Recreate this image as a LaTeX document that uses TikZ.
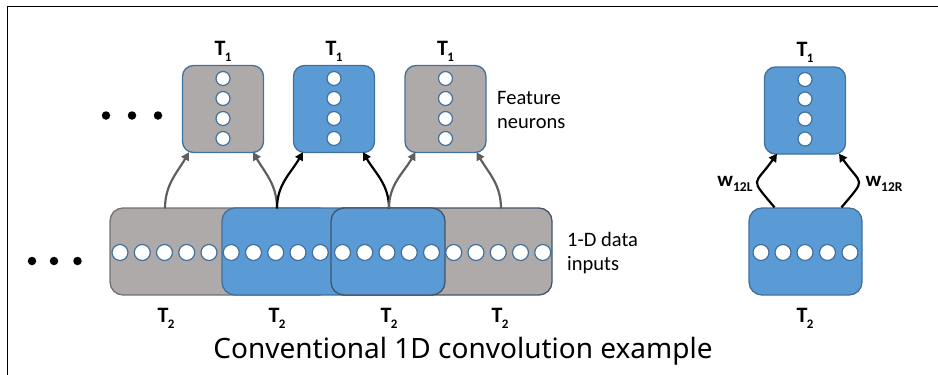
\documentclass[tikz,border=0pt]{standalone}
\usepackage{fontspec}
\setmainfont{Carlito}
\newfontfamily\titlefont{Noto Sans}
\usetikzlibrary{arrows.meta,calc}

\definecolor{boxblue}{RGB}{91,155,213}
\definecolor{edgeblue}{RGB}{65,113,156}
\definecolor{boxgray}{RGB}{174,170,170}
\definecolor{edgegray}{RGB}{118,113,113}
\definecolor{edgeslate}{RGB}{68,84,106}
\definecolor{arrowgray}{RGB}{95,95,95}

\newcommand{\tlab}[2]{{\fontsize{22}{22}\selectfont\bfseries #1\kern-0.5pt\raisebox{-0.28em}{\fontsize{13}{13}\selectfont #2}}}
\newcommand{\wlab}[1]{{\fontsize{21}{21}\selectfont\bfseries w\raisebox{-0.22em}{\fontsize{13.5}{13.5}\selectfont #1}}}

\begin{document}
\begin{tikzpicture}[x=1pt,y=-1pt,
  featbox/.style={draw=edgeblue,line width=1.3pt,rounded corners=11pt,minimum width=81pt,minimum height=87pt,inner sep=0pt},
  inbox/.style={draw,line width=1.3pt,rounded corners=13pt,minimum height=87pt,inner sep=0pt},
  neuron/.style={circle,draw=edgeblue,fill=white,line width=1.2pt,minimum size=14pt,inner sep=0pt},
  datum/.style={circle,draw=edgeblue,fill=white,line width=1.2pt,minimum size=16pt,inner sep=0pt},
  dot/.style={circle,fill=black,minimum size=8.5pt,inner sep=0pt},
  link/.style={line width=2.2pt,-{Triangle[length=8pt,width=8.5pt]}},
  graylink/.style={link,draw=arrowgray},
  blacklink/.style={link,draw=black},
  side/.style={font=\fontsize{20.5}{24}\selectfont,align=left,anchor=west,inner sep=0pt}
]
\useasboundingbox (0,0) rectangle (938,375);

% frame
\draw[line width=1.6pt] (7.5,375) -- (7.5,6.5) -- (938,6.5);

% ---- feature neurons (top row) ----
\node[featbox,fill=boxgray] (tA) at (223,109) {};
\node[featbox,fill=boxblue] (tB) at (334,109) {};
\node[featbox,fill=boxgray] (tC) at (445.5,109) {};
\foreach \b/\x in {A/223,B/334,C/445.5}{
  \foreach \i/\y in {1/78.5,2/98.5,3/118.5,4/138.5}
    \node[neuron] (n\b\i) at (\x,\y) {};
}
\node (lA) at (223,51) {\tlab{T}{1}};
\node (lB) at (334,51) {\tlab{T}{1}};
\node (lC) at (445.5,51) {\tlab{T}{1}};

\node[dot] (d1) at (106,115.5) {};
\node[dot] (d2) at (132,115.5) {};
\node[dot] (d3) at (158,115.5) {};

\node[side] (feat) at (497,110) {Feature\\neurons};

% ---- 1-D data inputs (bottom strip) ----
\node[inbox,fill=boxgray,draw=edgegray,minimum width=222pt] (b1) at (221,251.5) {};
\node[inbox,fill=boxgray,draw=edgeslate,minimum width=221pt] (b4) at (441.5,251.5) {};
\node[inbox,fill=boxblue,draw=edgeblue,minimum width=221pt] (b2) at (332.5,251.5) {};
\node[inbox,fill=boxblue,draw=edgeslate,minimum width=114pt] (b3) at (388,251.5) {};
\foreach \i in {0,...,19}
  \node[datum] (x\i) at ({120+22.25*\i},252.5) {};

\node[dot] (e1) at (32,261) {};
\node[dot] (e2) at (54,261) {};
\node[dot] (e3) at (77.5,261) {};

\node[side] (data) at (567,253) {1-D data\\inputs};

\node (m1) at (166,318) {\tlab{T}{2}};
\node (m2) at (277,318) {\tlab{T}{2}};
\node (m3) at (389,318) {\tlab{T}{2}};
\node (m4) at (500,318) {\tlab{T}{2}};

% connections from the strip to the feature boxes
\coordinate (s1) at (165,208.5);
\coordinate (s2) at (277,208.5);
\coordinate (s3) at (389,208.5);
\coordinate (s4) at (501,208.5);
\draw[graylink] (s1) to[out=90,in=-120] ([xshift=-34pt,yshift=1pt]tA.south);
\draw[graylink] (s2) to[out=90,in=-60] ([xshift=30pt,yshift=1pt]tA.south);
\draw[blacklink] (s2) to[out=90,in=-120] ([xshift=-31pt,yshift=1pt]tB.south);
\draw[blacklink] (s3) to[out=90,in=-60] ([xshift=29pt,yshift=1pt]tB.south);
\draw[graylink] (s3) to[out=90,in=-120] ([xshift=-30pt,yshift=1pt]tC.south);
\draw[graylink] (s4) to[out=90,in=-60] ([xshift=31pt,yshift=1pt]tC.south);

% ---- single unit on the right ----
\node[featbox,fill=boxblue] (rT) at (805,110.5) {};
\foreach \i/\y in {1/79.5,2/99,3/119,4/139}
  \node[neuron] (r\i) at (805,\y) {};
\node (rl1) at (805,52) {\tlab{T}{1}};

\node[inbox,fill=boxblue,draw=edgeblue,minimum width=113pt] (rB) at (805.5,251.5) {};
\foreach \i/\x in {1/761,2/783,3/805,4/827.5,5/850}
  \node[datum] (q\i) at (\x,252.5) {};
\node (rl2) at (805,318) {\tlab{T}{2}};

\draw[blacklink] ([xshift=-31pt]rB.north) to[out=130,in=-125,looseness=1.9] ([xshift=-28pt,yshift=1pt]rT.south);
\draw[blacklink] ([xshift=36pt]rB.north) to[out=50,in=-55,looseness=1.9] ([xshift=34pt,yshift=1pt]rT.south);
\node (wl) at (735,184) {\wlab{12L}};
\node (wr) at (884,184) {\wlab{12R}};

% caption
\node (cap) at (463,351) {\titlefont\fontsize{28}{32}\selectfont Conventional 1D convolution example};
\end{tikzpicture}
\end{document}
